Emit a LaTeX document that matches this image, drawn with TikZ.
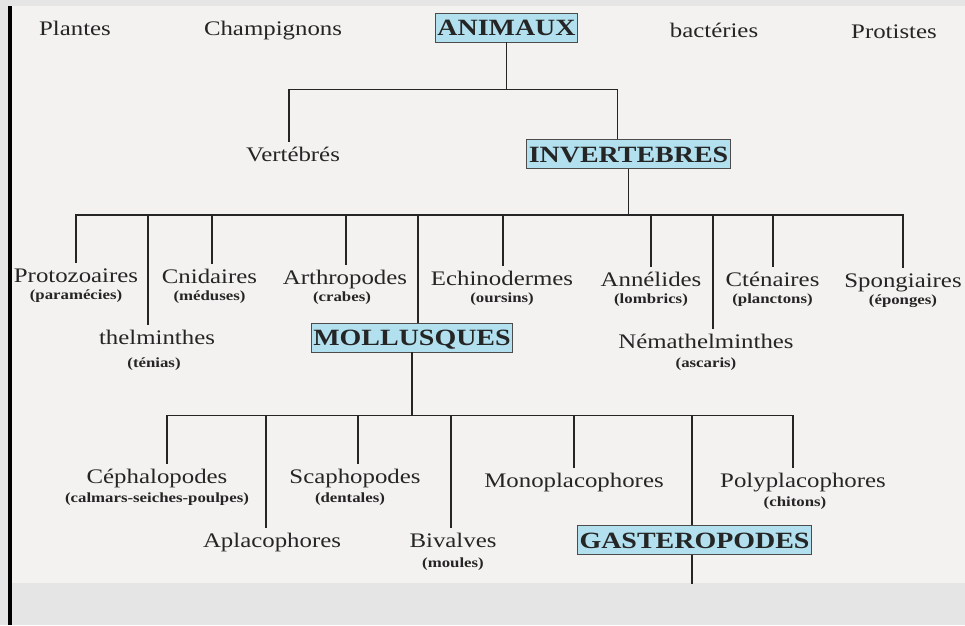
\documentclass[tikz,border=0pt]{standalone}
\usepackage{fontspec}
\setmainfont{Liberation Serif}[FakeStretch=1.2]
\usetikzlibrary{positioning}
\definecolor{paper}{HTML}{F3F2F0}
\definecolor{band}{HTML}{E5E5E5}
\definecolor{boxblue}{HTML}{B2E0EE}
\definecolor{ink}{HTML}{252525}

\begin{document}
\begin{tikzpicture}[
  x=1pt, y=-1pt,
  lab/.style ={text=ink, inner sep=0pt, anchor=base, text height=15pt, text depth=5pt, font=\fontsize{20.7}{22}\selectfont},
  sub/.style ={text=ink, inner sep=0pt, text height=10pt, text depth=3pt, font=\bfseries\fontsize{14}{15}\selectfont},
  grp/.style ={draw=black!70, fill=boxblue, line width=0.9pt, text=ink, inner xsep=2pt, inner ysep=0pt,
               text height=16pt, text depth=0pt, minimum height=29pt, font=\bfseries\fontsize{23.3}{25}\selectfont},
  link/.style={draw=ink, line width=1.3pt},
  twig/.style={link, shorten >=4pt},
  node distance=1pt,
]
  % page
  \useasboundingbox (0,0) rectangle (965,625);
  \fill[paper] (0,0) rectangle (965,625);
  \fill[band] (0,0) rectangle (965,6);
  \fill[band] (0,6) rectangle (8,583);
  \fill[band] (0,583) rectangle (965,625);
  \fill[black] (8,6) rectangle (12,625);

  % kingdoms
  \node[lab] (plantes)   at (75,35)  {Plantes};
  \node[lab] (champi)    at (273,35) {Champignons};
  \node[grp] (animaux)   at (506.5,27.5) {ANIMAUX};
  \node[lab] (bacteries) at (714,37) {bactéries};
  \node[lab] (protistes) at (894,38) {Protistes};

  \node[lab] (vertebres) at (293,161) {Vertébrés};
  \node[grp] (invert)    at (628.5,154) {INVERTEBRES};

  % phyla
  \node[lab] (protozo) at (76,282)  {Protozoaires};
  \node[lab] (thelm)   at (157,344) {thelminthes};
  \node[lab] (cnid)    at (209.5,283) {Cnidaires};
  \node[lab] (arthro)  at (345,284) {Arthropodes};
  \node[grp] (mollu)   at (412,337.5) {MOLLUSQUES};
  \node[lab] (echino)  at (502,285) {Echinodermes};
  \node[lab] (anneli)  at (651,286) {Annélides};
  \node[lab] (nemat)   at (706,348) {Némathelminthes};
  \node[lab] (cten)    at (772.5,286) {Cténaires};
  \node[lab] (spong)   at (903,287) {Spongiaires};

  \node[sub, below=2pt of protozo]  (protozo-s) {(paramécies)};
  \node[sub, below=8pt of thelm, xshift=-3] (thelm-s) {(ténias)};
  \node[sub, below=2pt of cnid]     (cnid-s)    {(méduses)};
  \node[sub, below=2pt of arthro, xshift=-3] (arthro-s) {(crabes)};
  \node[sub, below=2pt of echino]   (echino-s)  {(oursins)};
  \node[sub, below=2pt of anneli]   (anneli-s)  {(lombrics)};
  \node[sub, below=4pt of nemat]    (nemat-s)   {(ascaris)};
  \node[sub, below=2pt of cten]     (cten-s)    {(planctons)};
  \node[sub, below=2pt of spong]    (spong-s)   {(éponges)};

  % classes of molluscs
  \node[lab] (cephalo) at (157,483) {Céphalopodes};
  \node[lab] (aplaco)  at (272,547) {Aplacophores};
  \node[lab] (scapho)  at (355,483) {Scaphopodes};
  \node[lab] (bival)   at (453,547) {Bivalves};
  \node[lab] (monopl)  at (574,487) {Monoplacophores};
  \node[grp] (gastero) at (694.5,540) {GASTEROPODES};
  \node[lab] (polypl)  at (803,487) {Polyplacophores};

  \node[sub, below=4pt of cephalo]  (cephalo-s) {(calmars-seiches-poulpes)};
  \node[sub, below=4pt of scapho, xshift=-5] (scapho-s) {(dentales)};
  \node[sub, below=5pt of bival]    (bival-s)   {(moules)};
  \node[sub, below=4pt of polypl, xshift=-8] (polypl-s) {(chitons)};

  % tree
  \coordinate (b1) at ([yshift=-47]animaux.south);
  \draw[link] (animaux.south) -- (b1);
  \draw[link, shorten <=4pt] ([xshift=-4]vertebres.north) |- (b1) -| ([xshift=-11]invert.north);

  \coordinate (b2) at ([yshift=-46]invert.south);
  \draw[link] (invert.south) -- (b2);
  \draw[link, shorten <=4pt, shorten >=4pt] (protozo.north) |- (b2) -| (spong.north);
  \foreach \n/\dx in {thelm/-9, cnid/2.5, arthro/1, echino/1, anneli/0, nemat/7, cten/0.5}
    \draw[twig] ([xshift=\dx]\n.north |- b2) -- ([xshift=\dx]\n.north);
  \draw[link] ([xshift=6]mollu.north |- b2) -- ([xshift=6]mollu.north);

  \coordinate (b3) at ([yshift=-63]mollu.south);
  \draw[link] (mollu.south) -- (b3);
  \draw[link, shorten <=4pt, shorten >=4pt] ([xshift=10]cephalo.north) |- (b3) -| ([xshift=-10]polypl.north);
  \foreach \n/\dx in {aplaco/-6, scapho/3, bival/-2, monopl/0}
    \draw[twig] ([xshift=\dx]\n.north |- b3) -- ([xshift=\dx]\n.north);
  \draw[link] ([xshift=-2.5]gastero.north |- b3) -- ([xshift=-2.5]gastero.north);

  \coordinate (cut) at ([xshift=-2.5,yshift=-29]gastero.south);
  \draw[link] ([xshift=-2.5]gastero.south) -- (cut);
\end{tikzpicture}
\end{document}
